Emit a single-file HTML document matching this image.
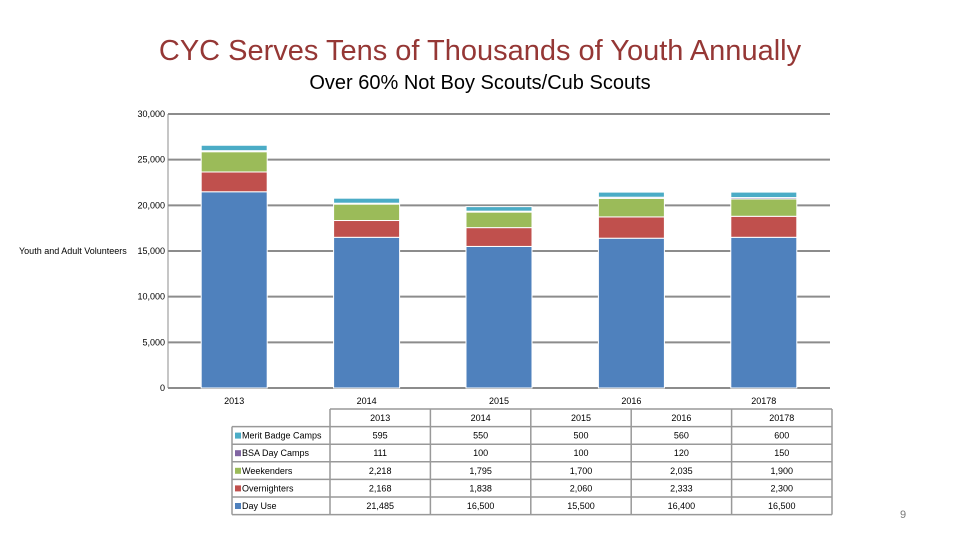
<!DOCTYPE html>
<html><head><meta charset="utf-8"><style>
body{margin:0;background:#fff;width:960px;height:540px;overflow:hidden;font-family:"Liberation Sans",sans-serif}
svg text{font-family:"Liberation Sans",sans-serif}
</style></head><body>
<svg id="c" width="960" height="540">
<text x="480" y="60" text-anchor="middle" font-size="29" fill="#953735">CYC Serves Tens of Thousands of Youth Annually</text>
<text x="480" y="89" text-anchor="middle" font-size="20" fill="#000">Over 60% Not Boy Scouts/Cub Scouts</text>
<text x="19" y="254" font-size="9" fill="#000">Youth and Adult Volunteers</text>
<g id="grid"></g><g id="bars"></g><g id="table"></g>
<text x="903" y="518" text-anchor="middle" font-size="11" fill="#777">9</text>
</svg>
<script>
const categories=["2013","2014","2015","2016","20178"];
const seriesNames=["Day Use","Overnighters","Weekenders","BSA Day Camps","Merit Badge Camps"];
const dayUse=[21485,16500,15500,16400,16500];
const overnighters=[2168,1838,2060,2333,2300];
const weekenders=[2218,1795,1700,2035,1900];
const bsaDayCamps=[111,100,100,120,150];
const meritBadge=[595,550,500,560,600];
const yTicks=[0,5000,10000,15000,20000,25000,30000];
const yTickLabels=["0","5,000","10,000","15,000","20,000","25,000","30,000"];
const colors=["#4f81bd","#c0504d","#9bbb59","#8064a2","#4bacc6"];
const series=[dayUse,overnighters,weekenders,bsaDayCamps,meritBadge];
const ns="http://www.w3.org/2000/svg";
const X0=168,X1=830,Y0=388,Y1=114;
const y=v=>Y0-(v/30000)*(Y0-Y1);
const band=(X1-X0)/categories.length;
const xc=i=>X0+band*(i+0.5);
function mk(t,a,p){const e=document.createElementNS(ns,t);for(const k in a)e.setAttribute(k,a[k]);p.appendChild(e);return e;}
const grid=document.getElementById('grid');
yTicks.forEach((t,i)=>{
 const l=mk('line',{x1:X0,x2:X1,y1:y(t),y2:y(t),stroke:'#8c8c8c','stroke-width':2},grid);
 
 
 const tx=mk('text',{x:X0-3,y:y(t)+3,'text-anchor':'end','font-size':9},grid);
 tx.textContent=yTickLabels[i];
 
 
});
mk('line',{x1:X0,x2:X0,y1:Y1,y2:Y0,stroke:'#8c8c8c','stroke-width':1},grid);
const bars=document.getElementById('bars');
categories.forEach((c,i)=>{
 let acc=0;const bw=66;
 series.forEach((s,k)=>{
  const r=mk('rect',{x:xc(i)-bw/2,y:y(acc+s[i]),width:bw,height:y(acc)-y(acc+s[i]),fill:colors[k],stroke:'#fff','stroke-width':1},bars);
  
  
  acc+=s[i];
 });
 const t=mk('text',{x:xc(i),y:404,'text-anchor':'middle','font-size':9},bars);
 t.textContent=c;
 
 
});
const tb=document.getElementById('table');
const TL=232,TC=330,TR=832,rowH=17.6,TT=409;
const colW=(TR-TC)/categories.length;
const cc=i=>TC+colW*(i+0.5);
const fmt=v=>v.toLocaleString('en-US');
const rowsOrder=[4,3,2,1,0];
mk('line',{x1:TC,x2:TR,y1:TT,y2:TT,stroke:'#999','stroke-width':1.5},tb);
categories.forEach((c,i)=>{
 const t=mk('text',{x:cc(i),y:TT+12,'text-anchor':'middle','font-size':9},tb);
 t.textContent=c;
 
 
});
rowsOrder.forEach((k,r)=>{
 const ty=TT+rowH*(r+1);
 mk('line',{x1:TL,x2:TR,y1:ty,y2:ty,stroke:'#999','stroke-width':1.5},tb);
 mk('rect',{x:TL+3,y:ty+6,width:6,height:6,fill:colors[k]},tb);
 const lt=mk('text',{x:TL+10,y:ty+12,'font-size':9},tb);
 lt.textContent=seriesNames[k];
 
 
 categories.forEach((c,i)=>{
  const t=mk('text',{x:cc(i),y:ty+12,'text-anchor':'middle','font-size':9},tb);
  t.textContent=fmt(series[k][i]);
  
  
 });
});
const TB=TT+rowH*6;
mk('line',{x1:TL,x2:TR,y1:TB,y2:TB,stroke:'#999','stroke-width':1.5},tb);
mk('line',{x1:TL,x2:TL,y1:TT+rowH,y2:TB,stroke:'#999','stroke-width':1.5},tb);
for(let i=0;i<=categories.length;i++){
 const xx=TC+colW*i;
 mk('line',{x1:xx,x2:xx,y1:TT,y2:TB,stroke:'#999','stroke-width':1.5},tb);
}
</script>
</body></html>
